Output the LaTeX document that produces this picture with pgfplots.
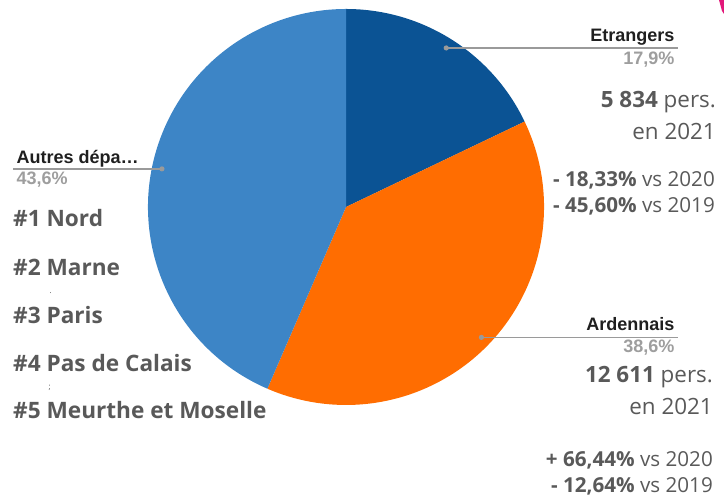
\documentclass[border=0pt]{standalone}
\usepackage{pgfplots}
\pgfplotsset{compat=1.18}
\usepackage{pgfplotstable}
\usepackage{fontspec}
\setmainfont{Open Sans}
\newfontfamily\arialfont{Liberation Sans}

\definecolor{etr}{HTML}{0B5394}
\definecolor{ard}{HTML}{FF6D01}
\definecolor{aut}{HTML}{3D85C6}
\definecolor{txt}{HTML}{595959}
\definecolor{pct}{HTML}{9E9E9E}
\definecolor{lead}{HTML}{9A9A9A}
\definecolor{pinkish}{HTML}{E2187A}

% part shares in percent, clockwise from the top
\pgfplotstableread{
part share
Etrangers 17.9
Ardennais 38.6
Autres 43.6
}\pietable

\begin{document}
\begin{tikzpicture}
\pgfplotstablegetelem{0}{share}\of\pietable \let\sA\pgfplotsretval
\pgfplotstablegetelem{1}{share}\of\pietable \let\sB\pgfplotsretval
\pgfplotstablegetelem{2}{share}\of\pietable \let\sC\pgfplotsretval
\pgfmathsetmacro\aA{90}
\pgfmathsetmacro\aB{\aA-3.6*\sA}
\pgfmathsetmacro\aC{\aB-3.6*\sB}
\pgfmathsetmacro\aD{-270}
\pgfmathsetmacro\mA{(\aA+\aB)/2}
\pgfmathsetmacro\mB{(\aB+\aC)/2}
\pgfmathsetmacro\mC{(\aC+\aD)/2}
\pgfmathsetmacro\dAx{346+188*cos(\mA)}\pgfmathsetmacro\dAy{293+188*sin(\mA)}
\pgfmathsetmacro\dBx{346+188*cos(\mB)}\pgfmathsetmacro\dBy{293+188*sin(\mB)}
\pgfmathsetmacro\dCx{346+188*cos(\mC)}\pgfmathsetmacro\dCy{293+188*sin(\mC)}

\begin{axis}[
scale only axis,
width=724bp, height=500bp,
xmin=0, xmax=724, ymin=0, ymax=500,
hide axis, clip=false,
every node/.append style={inner sep=0pt, outer sep=0pt}
]
% invisible frame so the page is the whole canvas
\path (axis cs:0,0) rectangle (axis cs:724,500);

% slices
\fill[etr] (axis cs:346,293) -- ++(\aA:198bp) arc[start angle=\aA, end angle=\aB, radius=198bp] -- cycle;
\fill[ard] (axis cs:346,293) -- ++(\aB:198bp) arc[start angle=\aB, end angle=\aC, radius=198bp] -- cycle;
\fill[aut] (axis cs:346,293) -- ++(\aC:198bp) arc[start angle=\aC, end angle=\aD, radius=198bp] -- cycle;

% decoration in the corner
\fill[pinkish] (axis cs:719,500) -- (axis cs:724,500) -- (axis cs:724,486) -- (axis cs:722,489) -- cycle;

% leader lines
\draw[lead, line width=1.4bp] (axis cs:\dAx,\dAy) -- (axis cs:678,\dAy);
\fill[lead] (axis cs:\dAx,\dAy) circle[radius=2.6bp];
\draw[lead, line width=1.4bp] (axis cs:\dBx,\dBy) -- (axis cs:678,\dBy);
\fill[lead] (axis cs:\dBx,\dBy) circle[radius=2.6bp];
\draw[lead, line width=1.4bp] (axis cs:\dCx,\dCy) -- (axis cs:13,\dCy);
\fill[lead] (axis cs:\dCx,\dCy) circle[radius=2.6bp];

% slice labels
\tikzset{lab/.style={font=\arialfont\bfseries\fontsize{18.1}{19}\selectfont}}
\node[lab, anchor=base east, text=black!88] at (axis cs:678,458.5) {Etrangers};
\node[lab, anchor=base east, text=pct] at (axis cs:678,435) {17,9\%};
\node[lab, anchor=base east, text=black!88] at (axis cs:678,169.5) {Ardennais};
\node[lab, anchor=base east, text=pct] at (axis cs:678,147) {38,6\%};
\node[lab, anchor=base west, text=black!88] at (axis cs:13,336) {Autres dépa…};
\node[lab, anchor=base west, text=pct] at (axis cs:13,315) {43,6\%};

% Etrangers block
\begin{scope}[every node/.style={anchor=base east, text=txt, font=\fontsize{22.5}{24}\selectfont, inner sep=0pt},
  evo/.style={font=\fontsize{20.7}{22}\selectfont}]
\node at (axis cs:716,392) {\textbf{5 834} pers.};
\node at (axis cs:716,360) {en 2021};
\node[evo] at (axis cs:715,313) {\textbf{- 18,33\%} vs 2020};
\node[evo] at (axis cs:715,287) {\textbf{- 45,60\%} vs 2019};
% Ardennais block
\node at (axis cs:713,117) {\textbf{12 611} pers.};
\node at (axis cs:713,85) {en 2021};
\node[evo] at (axis cs:713,33) {\textbf{+ 66,44\%} vs 2020};
\node[evo] at (axis cs:713,7) {\textbf{- 12,64\%} vs 2019};
\end{scope}

% Autres block
\begin{scope}[every node/.style={anchor=base west, text=txt, font=\bfseries\fontsize{22.7}{24}\selectfont, inner sep=0pt}]
\node at (axis cs:13,273) {\#1 Nord};
\node at (axis cs:13,224) {\#2 Marne};
\node at (axis cs:13,176) {\#3 Paris};
\node at (axis cs:13,128) {\#4 Pas de Calais};
\node at (axis cs:13,81) {\#5 Meurthe et Moselle};
\end{scope}
\node[anchor=base west, text=txt, font=\fontsize{8}{8}\selectfont] at (axis cs:46,206) {.};
\node[anchor=base west, text=txt, font=\fontsize{8}{8}\selectfont] at (axis cs:45,110) {;};
\end{axis}
\end{tikzpicture}
\end{document}
